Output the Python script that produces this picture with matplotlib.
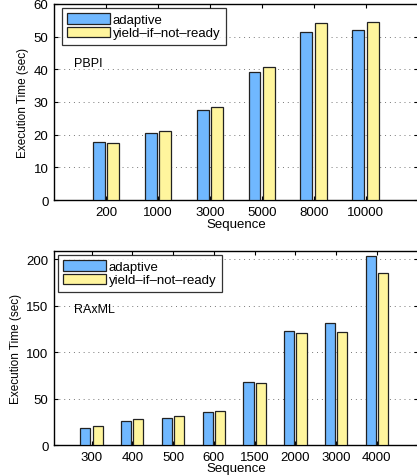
import numpy as np
import matplotlib
matplotlib.use("Agg")
import matplotlib.pyplot as plt

plt.rcParams['font.family'] = ['Liberation Sans', 'DejaVu Sans']

pbpi_seq = ['200', '1000', '3000', '5000', '8000', '10000']
pbpi_adaptive = [17.7, 20.5, 27.4, 39.1, 51.3, 52.0]
pbpi_yield = [17.6, 21.0, 28.6, 40.8, 54.1, 54.4]

raxml_seq = ['300', '400', '500', '600', '1500', '2000', '3000', '4000']
raxml_adaptive = [18.5, 26.3, 29.2, 36.0, 68.0, 122.8, 131.7, 203.6]
raxml_yield = [21.0, 28.5, 32.0, 37.4, 66.9, 121.0, 122.0, 185.0]

blue = '#70B8FF'
yellow = '#FFF59D'

fig = plt.figure(figsize=(4.17, 4.77), dpi=100)


def panel(rect, seq, a, b, ylim, yticks, xlim, width, off, label, label_y,
          leg_x, xlab_pad):
    ax = fig.add_axes(rect)
    x = np.arange(1, len(seq) + 1)
    ax.bar(x - off, a, width, color=blue, edgecolor='#222222', linewidth=0.9,
           label='adaptive', zorder=3)
    ax.bar(x + off, b, width, color=yellow, edgecolor='#222222', linewidth=0.9,
           label='yield\u2013if\u2013not\u2013ready', zorder=3)
    ax.set_xlim(*xlim)
    ax.set_ylim(*ylim)
    ax.set_xticks(x)
    ax.set_xticklabels(seq)
    ax.set_yticks(yticks)
    ax.yaxis.grid(True, linestyle=(0, (1, 4)), color='#777777', linewidth=0.7)
    ax.tick_params(direction='in', top=True, right=True, length=3,
                   labelsize=9.5, pad=4)
    for s in ax.spines.values():
        s.set_linewidth(1.0)
    ax.set_xlabel('Sequence', fontsize=9.5, labelpad=xlab_pad)
    ax.set_ylabel('Execution Time (sec)', fontsize=8.5, labelpad=3)
    ax.text(0.055, label_y, label, transform=ax.transAxes, fontsize=9,
            va='center')
    leg = ax.legend(loc='upper left', bbox_to_anchor=(leg_x, 0.98),
                    fontsize=9.5, frameon=True, fancybox=False,
                    edgecolor='black', handlelength=3.2, handleheight=0.85,
                    borderpad=0.4, labelspacing=0.05, handletextpad=0.25,
                    borderaxespad=0)
    leg.get_frame().set_linewidth(0.9)
    return ax


panel([0.1295, 0.5786, 0.872, 0.411], pbpi_seq, pbpi_adaptive, pbpi_yield,
      (0, 60), range(0, 61, 10), (0, 7), 0.23, 0.14, 'PBPI', 0.70, 0.022, 0.5)
panel([0.1295, 0.0640, 0.872, 0.408], raxml_seq, raxml_adaptive, raxml_yield,
      (0, 209), range(0, 201, 50), (0.08, 9), 0.25, 0.15, 'RAxML', 0.70,
      0.011, -1.0)

fig.savefig('out.png', dpi=100)
